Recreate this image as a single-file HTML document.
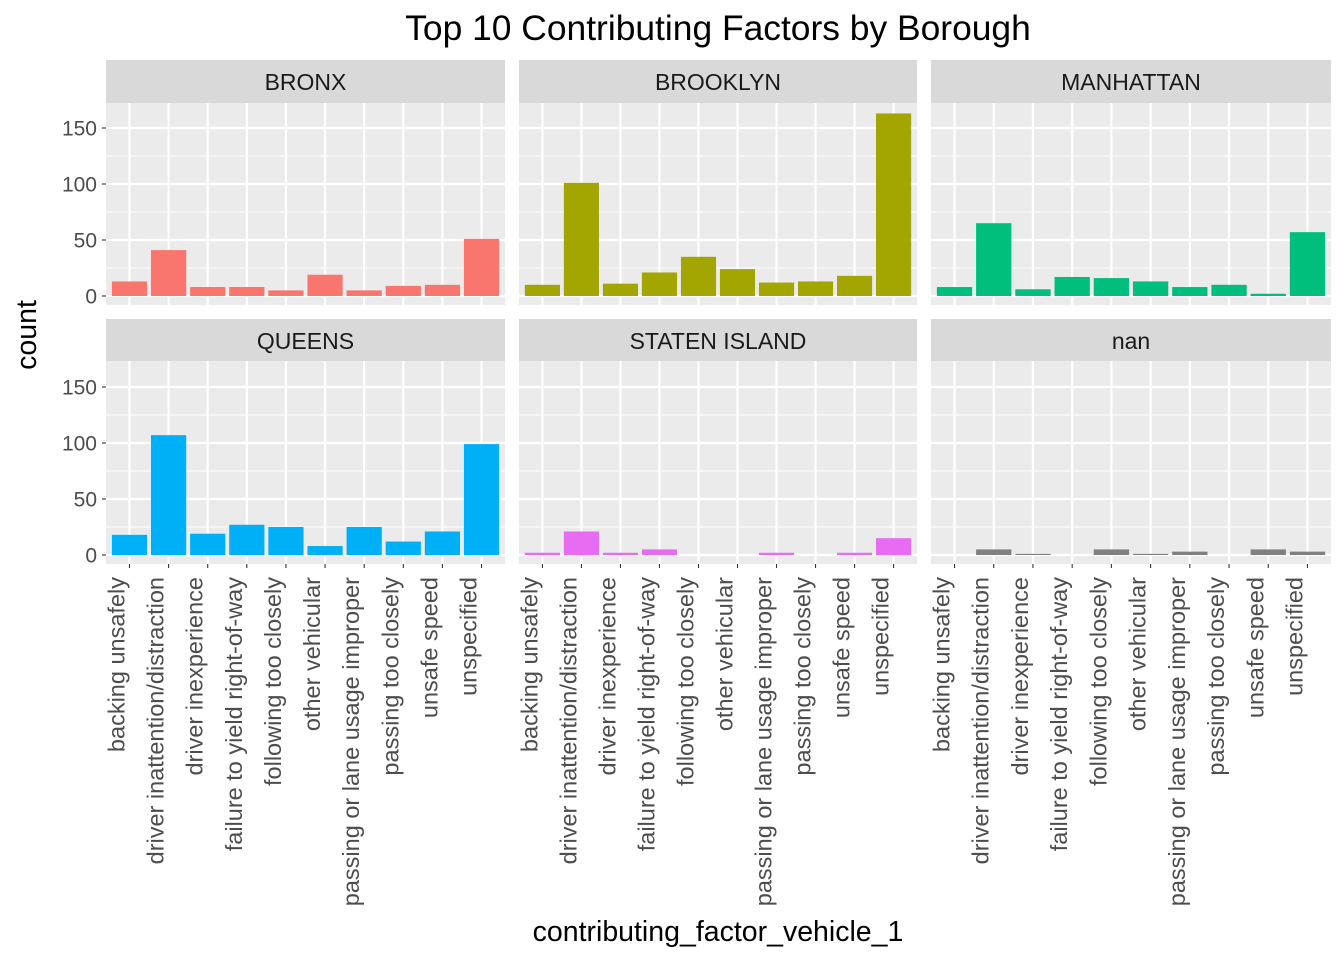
<!DOCTYPE html>
<html><head><meta charset="utf-8"><style>
body{margin:0;background:#fff;}
svg text{font-family:"Liberation Sans",Arial,sans-serif;}
</style></head><body>
<svg id="c" width="1344" height="960" xmlns="http://www.w3.org/2000/svg">
<text x="718" y="40" font-size="35.4" text-anchor="middle" fill="#000">Top 10 Contributing Factors by Borough</text>
<text x="718" y="941" font-size="28.5" text-anchor="middle" fill="#000">contributing_factor_vehicle_1</text>
<text transform="translate(36,335) rotate(-90)" font-size="28.5" text-anchor="middle" fill="#000">count</text>
</svg>
<script>
const categories=["backing unsafely","driver inattention/distraction","driver inexperience","failure to yield right-of-way","following too closely","other vehicular","passing or lane usage improper","passing too closely","unsafe speed","unspecified"];
const boroughs=["BRONX","BROOKLYN","MANHATTAN","QUEENS","STATEN ISLAND","nan"];
const colors=["#F8766D","#A3A500","#00BF7D","#00B0F6","#E76BF3","#808080"];
const bronx=[13,41,8,8,5,19,5,9,10,51];
const brooklyn=[10,101,11,21,35,24,12,13,18,163];
const manhattan=[8,65,6,17,16,13,8,10,2,57];
const queens=[18,107,19,27,25,8,25,12,21,99];
const staten=[2,21,2,5,0,0,2,0,2,15];
const nanv=[0,5,1,0,5,1,3,0,5,3];
const yTicks=[0,50,100,150];
const series=[bronx,brooklyn,manhattan,queens,staten,nanv];
const svg=document.getElementById('c');
const NS="http://www.w3.org/2000/svg";
function mk(t,a,p){const e=document.createElementNS(NS,t);for(const k in a)e.setAttribute(k,a[k]);(p||svg).appendChild(e);return e;}
const px=[106,519,931],pw=[399,398,400];
const rows=[{st:60,top:103,bot:305,zero:296},{st:319,top:361,bot:564,zero:555}];
const ppu=(296-128)/150;
for(let i=0;i<6;i++){
  const c=i%3,r=Math.floor(i/3),R=rows[r];
  const x0=px[c],w=pw[c],bw=w/10.2;
  const xs=k=>x0+(0.6+k)*bw;
  const ys=v=>R.zero-v*ppu;
  const g=mk('g',{});
  
  
  mk('rect',{x:x0,y:R.st,width:w,height:R.top-R.st,fill:'#d9d9d9'},g);
  const st=mk('text',{x:x0+w/2,y:R.st+30,'font-size':23,'text-anchor':'middle',fill:'#1a1a1a'},g);
  st.textContent=boroughs[i];
  
  
  mk('rect',{x:x0,y:R.top,width:w,height:R.bot-R.top,fill:'#ebebeb'},g);
  for(let t=0;t<yTicks.length;t++){
    const y=ys(yTicks[t]);
    if(t<yTicks.length-1){const ym=ys((yTicks[t]+yTicks[t+1])/2);mk('line',{x1:x0,x2:x0+w,y1:ym,y2:ym,stroke:'#fff','stroke-width':1.1},g);}
    mk('line',{x1:x0,x2:x0+w,y1:y,y2:y,stroke:'#fff','stroke-width':2.2},g);
  }
  {const ym=ys(175);if(ym>R.top)mk('line',{x1:x0,x2:x0+w,y1:ym,y2:ym,stroke:'#fff','stroke-width':1.1},g);}
  for(let k=0;k<10;k++){mk('line',{x1:xs(k),x2:xs(k),y1:R.top,y2:R.bot,stroke:'#fff','stroke-width':2.2},g);}
  const vals=series[i];
  for(let k=0;k<10;k++){
    if(vals[k]<=0)continue;
    const b=mk('rect',{x:xs(k)-0.45*bw,y:ys(vals[k]),width:0.9*bw,height:vals[k]*ppu,fill:colors[i]},g);
    
    
  }
  if(c===0){
    for(const t of yTicks){
      const y=ys(t);
      mk('line',{x1:x0-4,x2:x0,y1:y,y2:y,stroke:'#333','stroke-width':1.1});
      const tl=mk('text',{x:x0-9,y:y+7.5,'font-size':21,'text-anchor':'end',fill:'#4d4d4d'});
      tl.textContent=t;
      
      
    }
  }
  if(r===1){
    for(let k=0;k<10;k++){
      const x=xs(k);
      mk('line',{x1:x,x2:x,y1:R.bot,y2:R.bot+4,stroke:'#333','stroke-width':1.1});
      const tl=mk('text',{transform:`translate(${x-5},${R.bot+13}) rotate(-90)`,'font-size':23.5,'text-anchor':'end',fill:'#4d4d4d'});
      tl.textContent=categories[k];
      
      
    }
  }
}
</script>
</body></html>
